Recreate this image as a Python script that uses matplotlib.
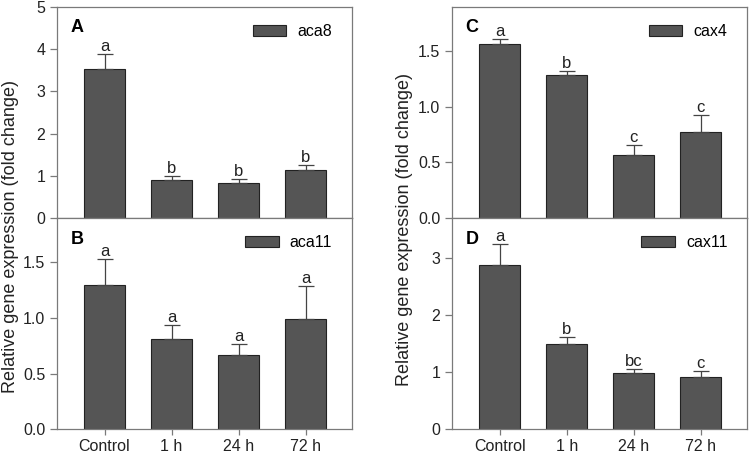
import matplotlib
matplotlib.use("Agg")
import matplotlib.pyplot as plt

plt.rcParams['font.family'] = ['Liberation Sans', 'DejaVu Sans']

# data
groups = ["Control", "1 h", "24 h", "72 h"]

aca8 = [3.53, 0.90, 0.84, 1.14]
aca8_err = [0.36, 0.10, 0.08, 0.11]
aca8_let = ["a", "b", "b", "b"]

aca11 = [1.30, 0.81, 0.67, 0.99]
aca11_err = [0.23, 0.13, 0.095, 0.295]
aca11_let = ["a", "a", "a", "a"]

cax4 = [1.57, 1.285, 0.57, 0.775]
cax4_err = [0.04, 0.036, 0.088, 0.15]
cax4_let = ["a", "b", "c", "c"]

cax11 = [2.88, 1.50, 0.975, 0.92]
cax11_err = [0.36, 0.11, 0.085, 0.09]
cax11_let = ["a", "b", "bc", "c"]

bar_col = "#555555"
edge_col = "#222222"
spine_col = "#7a7a7a"

fig = plt.figure(figsize=(7.5, 4.57), dpi=100)

def panel(rect, vals, errs, lets, name, letter, ylim, yticks, ylabels, bottom):
    ax = fig.add_axes(rect)
    x = list(range(len(vals)))
    ax.bar(x, vals, width=0.61, color=bar_col, edgecolor=edge_col, linewidth=0.8,
           label=name, zorder=2)
    ax.errorbar(x, vals, yerr=[[0] * len(vals), errs], fmt="none", ecolor="#444444",
                elinewidth=0.9, capsize=6, capthick=0.9, zorder=3)
    for xi, v, e, l in zip(x, vals, errs, lets):
        ax.text(xi, v + e, l, ha="center", va="bottom", fontsize=12, color="#222222")
    ax.set_xlim(-0.71, 3.69)
    ax.set_ylim(*ylim)
    ax.set_yticks(yticks)
    ax.set_yticklabels(ylabels, fontsize=11.5, color="#222222")
    for s in ax.spines.values():
        s.set_color(spine_col)
        s.set_linewidth(0.9)
    ax.tick_params(axis="y", direction="out", length=5, color=spine_col, width=0.9)
    if bottom:
        ax.set_xticks(x)
        ax.set_xticklabels(groups, fontsize=11.5, color="#222222")
        ax.tick_params(axis="x", direction="out", length=4, color=spine_col, width=0.9, pad=3)
    else:
        ax.set_xticks([])
    ax.text(0.045, 0.9, letter, transform=ax.transAxes, fontsize=13, fontweight="bold",
            ha="left", va="center")
    ax.legend(loc="upper right", bbox_to_anchor=(0.966, 0.965), frameon=False,
              fontsize=11.5, handlelength=2.1, handleheight=0.7, handletextpad=0.7,
              borderaxespad=0.2)
    return ax

lx, rx, w, h = 0.076, 0.603, 0.393, 0.462
panel([lx, 0.523, w, h], aca8, aca8_err, aca8_let, "aca8", "A", (0, 5),
      [0, 1, 2, 3, 4, 5], ["0", "1", "2", "3", "4", "5"], False)
panel([lx, 0.061, w, h], aca11, aca11_err, aca11_let, "aca11", "B", (0, 1.9),
      [0, 0.5, 1.0, 1.5], ["0.0", "0.5", "1.0", "1.5"], True)
panel([rx, 0.523, w, h], cax4, cax4_err, cax4_let, "cax4", "C", (0, 1.9),
      [0, 0.5, 1.0, 1.5], ["0.0", "0.5", "1.0", "1.5"], False)
panel([rx, 0.061, w, h], cax11, cax11_err, cax11_let, "cax11", "D", (0, 3.7),
      [0, 1, 2, 3], ["0", "1", "2", "3"], True)

ylab = "Relative gene expression (fold change)"
fig.text(0.014, 0.482, ylab, rotation=90, ha="center", va="center", fontsize=13, color="#222222")
fig.text(0.539, 0.498, ylab, rotation=90, ha="center", va="center", fontsize=13, color="#222222")

fig.savefig("out.png", dpi=100)
